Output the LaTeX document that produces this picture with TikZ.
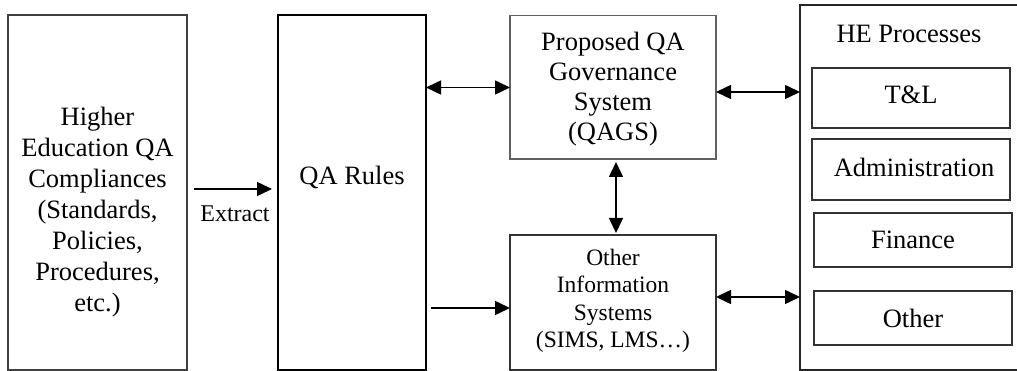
\documentclass[tikz,border=0pt]{standalone}
\usepackage{fontspec}
\setmainfont{Liberation Serif}
\usetikzlibrary{arrows.meta,calc}
\begin{document}
\begin{tikzpicture}[x=1pt,y=-1pt,
  box/.style={draw, inner sep=0pt, outer sep=0pt, line width=1.3pt},
  txt/.style={align=center, inner sep=0pt, font=\fontsize{26.5}{31}\selectfont},
  tip/.style={Triangle[length=15pt,width=14pt]},
  arr/.style={line width=1.5pt, -{Triangle[length=15pt,width=14pt]}},
  darr/.style={line width=1.5pt, {Triangle[length=15pt,width=14pt]}-{Triangle[length=15pt,width=14pt]}}]
\useasboundingbox (0,0) rectangle (1017,371);
\clip (0,0) rectangle (1017,371);
% boxes
\node[box, draw=black!75, line width=1.5pt, minimum width=179pt, minimum height=355pt] (hec) at (97.5,192.5) {};
\node[box, draw=black, line width=2pt, minimum width=148pt, minimum height=355pt] (rules) at (352,192.5) {};
\node[box, draw=black!62, minimum width=206pt, minimum height=143.5pt] (qags) at (613,87.25) {};
\node[box, draw=black!80, minimum width=206pt, minimum height=135pt] (ois) at (613,302.5) {};
\node[box, draw=black!85, minimum width=230pt, minimum height=365pt] (he) at (915,187.5) {};
\node[box, draw=black!80, minimum width=198pt, minimum height=60pt] (tl) at (911,98) {};
\node[box, draw=black!80, minimum width=198pt, minimum height=61pt] (adm) at (911,169.5) {};
\node[box, draw=black!80, minimum width=198pt, minimum height=54pt] (fin) at (913,240) {};
\node[box, draw=black!80, minimum width=198pt, minimum height=54pt] (oth) at (913,318) {};
% texts
\node[txt] (hect) at (97.5,212) {Higher\\Education QA\\Compliances\\(Standards,\\Policies,\\Procedures,\\etc.)};
\node[txt] (rulest) at (352,177) {QA Rules};
\node[txt, font=\fontsize{26.5}{30}\selectfont] (qagst) at (613,89) {Proposed QA\\Governance\\System\\(QAGS)};
\node[txt, font=\fontsize{23.5}{27.5}\selectfont] (oist) at (613,301) {Other\\Information\\Systems\\(SIMS, LMS…)};
\node[txt] (het) at (909,34) {HE Processes};
\node[txt] (tlt) at (911,95) {T\&L};
\node[txt] (admt) at (914,167) {Administration};
\node[txt] (fint) at (913,240) {Finance};
\node[txt] (otht) at (913,318) {Other};
\node[txt, font=\fontsize{24}{28}\selectfont] (ext) at (235,214) {Extract};
% connectors
\draw[arr] ($(hec.east |- 0,189)+(7,0)$) -- ($(rules.west |- 0,189)+(-6,0)$);
\draw[darr] (rules.east |- 0,87.5) -- (qags.west |- 0,87.5);
\draw[arr] ($(rules.east |- 0,308)+(5,0)$) -- (ois.west |- 0,308);
\draw[darr] ($(qags.south -| 616,0)+(0,3)$) -- ($(ois.north -| 616,0)+(0,-2)$);
\draw[darr] (qags.east |- 0,92) -- (he.west |- 0,92);
\draw[darr] (ois.east |- 0,297) -- (he.west |- 0,297);
\end{tikzpicture}
\end{document}
